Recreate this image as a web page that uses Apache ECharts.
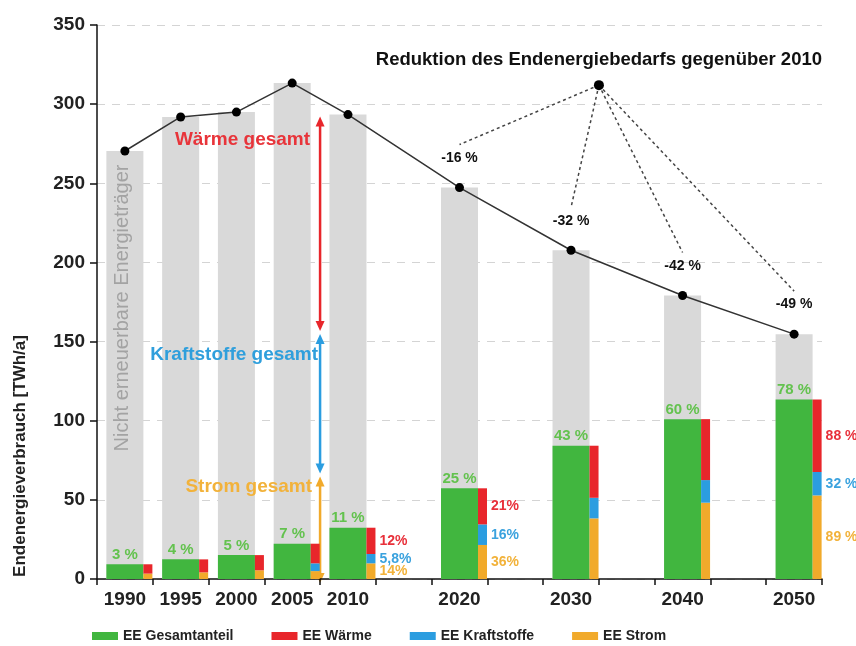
<!DOCTYPE html>
<html>
<head>
<meta charset="utf-8">
<script src="https://cdn.jsdelivr.net/npm/echarts@6/dist/echarts.min.js"></script>
<style>
html, body { margin: 0; padding: 0; background: #fff; }
#charts { width: 856px; height: 646px; }
</style>
</head>
<body>
<div id="charts"></div>
<script>
// 5-Jahres-Raster, leere Slots zwischen 2010 und 2050
var years = ['1990', '1995', '2000', '2005', '2010', '2015', '2020', '2025', '2030', '2035', '2040', '2045', '2050'];
var labelYears = ['1990', '1995', '2000', '2005', '2010', '2020', '2030', '2040', '2050'];

var endenergie = [270.4, 291.9, 295.0, 313.3, 293.4, null, 247.3, null, 207.7, null, 179.1, null, 154.7];
var eeGesamt = [9.3, 12.4, 15.1, 22.3, 32.4, null, 57.3, null, 84.2, null, 101.0, null, 113.4];
var eeStrom = [3.4, 4.2, 5.5, 5.0, 9.9, null, 21.5, null, 38.3, null, 48.2, null, 52.8];
var eeKraftstoffe = [0, 0, 0, 4.9, 5.9, null, 13.0, null, 13.0, null, 14.3, null, 14.8];
var eeWaerme = [5.9, 8.2, 9.6, 12.4, 16.6, null, 22.8, null, 32.9, null, 38.5, null, 45.8];

var eeGesamtLabels = ['3 %', '4 %', '5 %', '7 %', '11 %', '', '25 %', '', '43 %', '', '60 %', '', '78 %'];
var waermeLabels = ['', '', '', '', '12%', '', '21%', '', '', '', '', '', '88 %'];
var kraftLabels = ['', '', '', '', '5,8%', '', '16%', '', '', '', '', '', '32 %'];
var stromLabels = ['', '', '', '', '14%', '', '36%', '', '', '', '', '', '89 %'];
var reduktionLabels = ['', '', '', '', '', '', '-16 %', '', '-32 %', '', '-42 %', '', '-49 %'];

// Aufteilung 2010 (Pfeile)
var strom2010 = 66;
var kraftstoffe2010 = 90;
var waerme2010 = 137.4;
var reduktionHub = 312;

var cGreen = '#41b63f', cRed = '#e8262b', cBlue = '#2b9de0', cOrange = '#f1aa2b';
var font = 'Liberation Sans, Arial, Helvetica, sans-serif';

var myChart = echarts.init(document.getElementById('charts'));

function sideLabel(arr, color) {
	return {
		show : true,
		position : 'right',
		distance : 4,
		color : color,
		fontFamily : font,
		fontWeight : 'bold',
		fontSize : 14,
		formatter : function(p) { return arr[p.dataIndex]; }
	};
}

var option = {
	animation : false,
	textStyle : { fontFamily : font },
	grid : [
		{ left : 97, right : 34, top : 25, bottom : 67 },
		{ left : 120, right : 11, top : 25, bottom : 67 }
	],
	legend : {
		data : [ 'EE Gesamtanteil', 'EE Wärme', 'EE Kraftstoffe', 'EE Strom' ],
		left : 87,
		top : 624,
		icon : 'rect',
		itemWidth : 26,
		itemHeight : 8,
		itemGap : 38,
		textStyle : { fontFamily : font, fontWeight : 'bold', fontSize : 14, color : '#222' }
	},
	xAxis : [ {
		type : 'category',
		data : years,
		gridIndex : 0,
		axisLine : { lineStyle : { color : '#111', width : 1.5 } },
		axisTick : { show : true, interval : 0, length : 6, lineStyle : { color : '#111', width : 1.5 } },
		axisLabel : {
			interval : 0,
			margin : 11,
			color : '#222',
			fontFamily : font,
			fontWeight : 'bold',
			fontSize : 19,
			formatter : function(v) { return labelYears.indexOf(v) >= 0 ? v : ''; }
		}
	}, {
		type : 'category',
		data : years,
		gridIndex : 1,
		show : false
	} ],
	yAxis : [ {
		type : 'value',
		gridIndex : 0,
		min : 0,
		max : 350,
		interval : 50,
		axisLine : { show : true, lineStyle : { color : '#111', width : 1.5 } },
		axisTick : { show : true, length : 7, lineStyle : { color : '#111', width : 1.5 } },
		axisLabel : { margin : 12, color : '#222', fontFamily : font, fontWeight : 'bold', fontSize : 19 },
		splitLine : { lineStyle : { color : '#d4d4d4', type : [ 8, 7 ] } }
	}, {
		type : 'value',
		gridIndex : 1,
		min : 0,
		max : 350,
		interval : 50,
		show : false,
		splitLine : { show : false }
	} ],
	series : [ {
		name : 'Nicht erneuerbare Energieträger',
		type : 'bar',
		barWidth : 37,
		barGap : '-100%',
		data : endenergie,
		itemStyle : { color : '#d9d9d9' }
	}, {
		name : 'EE Gesamtanteil',
		type : 'bar',
		barWidth : 37,
		barGap : '-100%',
		data : eeGesamt,
		itemStyle : { color : cGreen },
		label : {
			show : true,
			position : 'top',
			distance : 2,
			color : '#63c24e',
			fontFamily : font,
			fontWeight : 'bold',
			fontSize : 15,
			formatter : function(p) { return eeGesamtLabels[p.dataIndex]; }
		}
	}, {
		name : 'EE Strom',
		type : 'bar',
		xAxisIndex : 1,
		yAxisIndex : 1,
		stack : 'ee',
		barWidth : 9,
		data : eeStrom,
		itemStyle : { color : cOrange },
		label : sideLabel(stromLabels, '#f2b23a')
	}, {
		name : 'EE Kraftstoffe',
		type : 'bar',
		xAxisIndex : 1,
		yAxisIndex : 1,
		stack : 'ee',
		barWidth : 9,
		data : eeKraftstoffe,
		itemStyle : { color : cBlue },
		label : sideLabel(kraftLabels, '#3aa2de')
	}, {
		name : 'EE Wärme',
		type : 'bar',
		xAxisIndex : 1,
		yAxisIndex : 1,
		stack : 'ee',
		barWidth : 9,
		data : eeWaerme,
		itemStyle : { color : cRed },
		label : sideLabel(waermeLabels, '#e8303a')
	}, {
		name : 'Endenergieverbrauch',
		type : 'line',
		data : endenergie,
		connectNulls : true,
		symbol : 'circle',
		symbolSize : 9,
		z : 5,
		lineStyle : { color : '#333', width : 1.5 },
		itemStyle : { color : '#000' },
		label : {
			show : true,
			position : 'top',
			distance : 18,
			color : '#111',
			fontFamily : font,
			fontWeight : 'bold',
			fontSize : 14,
			formatter : function(p) { return reduktionLabels[p.dataIndex]; }
		}
	} ]
};
myChart.setOption(option);

function px(cat, val) {
	return myChart.convertToPixel({ gridIndex : 0 }, [ cat, val ]);
}

function arrow(x, yTop, yBottom, color) {
	return {
		type : 'group',
		children : [ {
			type : 'line',
			shape : { x1 : x, y1 : yTop + 6, x2 : x, y2 : yBottom - 6 },
			style : { stroke : color, lineWidth : 2.5 }
		}, {
			type : 'polygon',
			shape : { points : [ [ x, yTop ], [ x - 4.5, yTop + 10 ], [ x + 4.5, yTop + 10 ] ] },
			style : { fill : color }
		}, {
			type : 'polygon',
			shape : { points : [ [ x, yBottom ], [ x - 4.5, yBottom - 10 ], [ x + 4.5, yBottom - 10 ] ] },
			style : { fill : color }
		} ]
	};
}

function text(x, y, str, color, size, align, weight, rot) {
	return {
		type : 'text',
		x : x,
		y : y,
		rotation : rot || 0,
		style : {
			text : str,
			fill : color,
			font : (weight || 'bold') + ' ' + size + 'px ' + font,
			align : align || 'center',
			verticalAlign : 'middle'
		},
		z : 10
	};
}

// Pfeile zwischen 2005 und 2010
var ax = (px('2005', 0)[0] + px('2010', 0)[0]) / 2;
var yS0 = px('2010', 0)[1];
var yS1 = px('2010', strom2010)[1];
var yK1 = px('2010', strom2010 + kraftstoffe2010)[1];
var yW1 = px('2010', strom2010 + kraftstoffe2010 + waerme2010)[1];

var graphics = [
	arrow(ax, yW1 + 2, yK1 - 1, cRed),
	arrow(ax, yK1 + 2, yS1 - 1, cBlue),
	arrow(ax, yS1 + 2, yS0 + 4, cOrange),
	text(ax - 10, 140, 'Wärme gesamt', '#e8343a', 19, 'right'),
	text(ax - 2, 355, 'Kraftstoffe gesamt', '#2f9fdc', 19, 'right'),
	text(ax - 8, 487, 'Strom gesamt', '#f2b23a', 19, 'right'),
	text(122, 308, 'Nicht erneuerbare Energieträger', '#a3a3a3', 20, 'center', 'normal', Math.PI / 2),
	text(20, 456, 'Endenergieverbrauch [TWh/a]', '#222', 17, 'center', 'bold', Math.PI / 2)
];

// Reduktion gegenueber 2010
var hubX = (px('2030', 0)[0] + px('2035', 0)[0]) / 2;
var hubY = px('2030', reduktionHub)[1];
graphics.push(text(hubX, 60, 'Reduktion des Endenergiebedarfs gegenüber 2010', '#111', 18.5, 'center'));
for (var i = 0; i < years.length; i++) {
	if (!reduktionLabels[i]) continue;
	var p = px(years[i], endenergie[i]);
	graphics.push({
		type : 'line',
		shape : { x1 : hubX, y1 : hubY, x2 : p[0], y2 : p[1] - 43 },
		style : { stroke : '#444', lineWidth : 1.5, lineDash : [ 3, 3 ] },
		z : 4
	});
}
graphics.push({
	type : 'circle',
	shape : { cx : hubX, cy : hubY, r : 5 },
	style : { fill : '#000' },
	z : 6
});

myChart.setOption({ graphic : graphics });
</script>
</body>
</html>
